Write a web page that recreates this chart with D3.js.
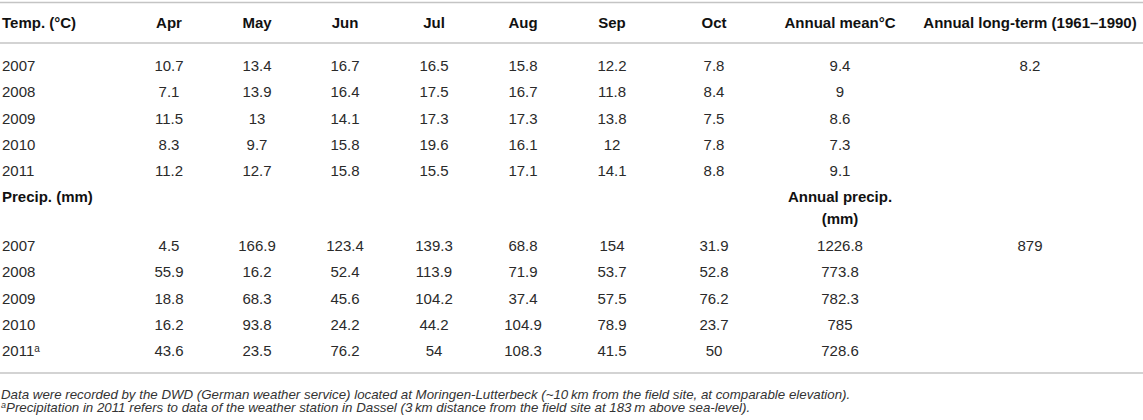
<!DOCTYPE html>
<html>
<head>
<meta charset="utf-8">
<script src="https://cdn.jsdelivr.net/npm/d3@7"></script>
<style>
  body { margin: 0; background: #fff; }
  svg { display: block; font-family: "Liberation Sans", Arial, Helvetica, sans-serif; }
</style>
</head>
<body>
<svg id="table" width="1143" height="420"></svg>
<script>
// table values
const months = ['Apr', 'May', 'Jun', 'Jul', 'Aug', 'Sep', 'Oct'];
const years = ['2007', '2008', '2009', '2010', '2011'];

const tempMonthly = [
  [10.7, 13.4, 16.7, 16.5, 15.8, 12.2, 7.8],
  [7.1, 13.9, 16.4, 17.5, 16.7, 11.8, 8.4],
  [11.5, 13, 14.1, 17.3, 17.3, 13.8, 7.5],
  [8.3, 9.7, 15.8, 19.6, 16.1, 12, 7.8],
  [11.2, 12.7, 15.8, 15.5, 17.1, 14.1, 8.8],
];
const tempAnnualMean = [9.4, 9, 8.6, 7.3, 9.1];
const tempLongTerm = [8.2, null, null, null, null];

const precipMonthly = [
  [4.5, 166.9, 123.4, 139.3, 68.8, 154, 31.9],
  [55.9, 16.2, 52.4, 113.9, 71.9, 53.7, 52.8],
  [18.8, 68.3, 45.6, 104.2, 37.4, 57.5, 76.2],
  [16.2, 93.8, 24.2, 44.2, 104.9, 78.9, 23.7],
  [43.6, 23.5, 76.2, 54, 108.3, 41.5, 50],
];
const precipAnnual = [1226.8, 773.8, 782.3, 785, 728.6];
const precipLongTerm = [879, null, null, null, null];
const precipFootnoteYear = '2011';

const headerLabels = ['Temp. (°C)', ...months, 'Annual mean°C', 'Annual long-term (1961–1990)'];
const footnotes = [
  'Data were recorded by the DWD (German weather service) located at Moringen-Lutterbeck (~10\u2009km from the field site, at comparable elevation).',
  'Precipitation in 2011 refers to data of the weather station in Dassel (3\u2009km distance from the field site at 183\u2009m above sea-level).',
];

const W = 1143;
const svg = d3.select('#table');

const colKeys = ['label', ...months, 'annual', 'longterm'];
const x = d3.scaleOrdinal().domain(colKeys).range([2, 169, 257, 345, 434, 523, 612, 714, 840, 1030]);
const anchor = (k) => (k === 'label' ? 'start' : 'middle');

const tempY = d3.scaleLinear().domain([0, 1]).range([66, 92.2]);
const precipY = d3.scaleLinear().domain([0, 1]).range([246, 272.2]);

const FONT = 15;
const TEXT = '#2a2a2a';

// rules
[2.5, 43, 373].forEach((y) => {
  svg.append('line')
    .attr('x1', 0).attr('x2', W)
    .attr('y1', y).attr('y2', y)
    .attr('stroke', '#c4c4c4')
    .attr('stroke-width', 1.6);
});

// header
svg.append('g')
  .selectAll('text')
  .data(headerLabels)
  .join('text')
  .attr('x', (d, i) => x(colKeys[i]))
  .attr('y', 23)
  .attr('dy', '0.35em')
  .attr('text-anchor', (d, i) => anchor(colKeys[i]))
  .attr('font-size', FONT)
  .attr('font-weight', 'bold')
  .attr('fill', '#111')
  .text((d) => d);

const drawBlock = (cls, yScale, monthly, annual, longTerm, superYear) => {
  const rows = years.map((yr, i) => ({
    year: yr,
    cells: [...monthly[i], annual[i], longTerm[i]],
  }));

  const g = svg.append('g').attr('class', cls);
  const row = g.selectAll('g.row')
    .data(rows)
    .join('g')
    .attr('class', 'row')
    .attr('transform', (d, i) => `translate(0,${yScale(i)})`);

  const yearText = row.append('text')
    .attr('x', x('label'))
    .attr('dy', '0.35em')
    .attr('font-size', FONT)
    .attr('fill', TEXT)
    .text((d) => d.year);
  if (superYear) {
    yearText.filter((d) => d.year === superYear)
      .append('tspan')
      .attr('dy', '-0.45em')
      .attr('font-size', 10)
      .text('a');
  }

  row.selectAll('text.val')
    .data((d) => d.cells.map((v, j) => ({ v, key: colKeys[j + 1] })).filter((c) => c.v != null))
    .join('text')
    .attr('class', 'val')
    .attr('x', (c) => x(c.key))
    .attr('dy', '0.35em')
    .attr('text-anchor', 'middle')
    .attr('font-size', FONT)
    .attr('fill', TEXT)
    .text((c) => String(c.v));
};

drawBlock('temp', tempY, tempMonthly, tempAnnualMean, tempLongTerm, null);

// precipitation sub-header
const sub = svg.append('g').attr('font-size', FONT).attr('font-weight', 'bold').attr('fill', '#111');
sub.append('text').attr('x', x('label')).attr('y', 197).attr('dy', '0.35em').text('Precip. (mm)');
sub.append('text').attr('x', x('annual')).attr('y', 197).attr('dy', '0.35em')
  .attr('text-anchor', 'middle').text('Annual precip.');
sub.append('text').attr('x', x('annual')).attr('y', 219).attr('dy', '0.35em')
  .attr('text-anchor', 'middle').text('(mm)');

drawBlock('precip', precipY, precipMonthly, precipAnnual, precipLongTerm, precipFootnoteYear);

// footnotes
const notes = svg.append('g')
  .attr('font-size', 13.3)
  .attr('font-style', 'italic')
  .attr('fill', '#333');
notes.append('text').attr('x', 1).attr('y', 394).attr('dy', '0.35em').text(footnotes[0]);
const n2 = notes.append('text').attr('x', 1).attr('y', 411).attr('dy', '0.35em');
n2.append('tspan').attr('font-size', 9).attr('dy', '-0.3em').text('a');
n2.append('tspan').attr('dy', '0.3em').text(footnotes[1]);
</script>
</body>
</html>
